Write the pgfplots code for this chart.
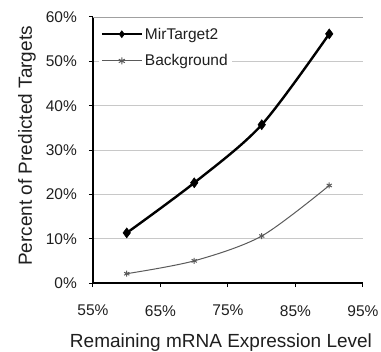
\documentclass[border=0pt]{standalone}
\usepackage{fontspec}
\setmainfont{Liberation Sans}
\usepackage{pgfplots}
\pgfplotsset{compat=1.18}
\definecolor{bggray}{HTML}{5A5A5A}
\definecolor{gridgray}{HTML}{C8C8C8}
\definecolor{framegray}{HTML}{A0A0A0}
\begin{document}
\begin{tikzpicture}
\begin{axis}[
  scale only axis,
  width=270bp, height=266bp,
  at={(0,0)}, anchor=south west,
  xmin=55, xmax=95, ymin=0, ymax=60,
  axis x line*=bottom, axis y line*=left,
  axis line style={black, line width=1.1bp},
  xtick={55,65,75,85,95},
  xticklabels={55\%,65\%,75\%,85\%,95\%},
  ytick={0,10,20,30,40,50,60},
  yticklabels={0\%,10\%,20\%,30\%,40\%,50\%,60\%},
  tick align=outside,
  major tick length=4bp,
  tick style={black, line width=1bp},
  ymajorgrids,
  grid style={gridgray, line width=0.8bp},
  /pgf/number format/assume math mode=true,
  ticklabel style={font=\fontsize{15.5bp}{18bp}\selectfont, text=black!88},
  yticklabel style={anchor=east, inner sep=0pt, xshift=-12bp},
  xticklabel style={anchor=north, inner sep=0pt, yshift=-18bp},
  xlabel={Remaining mRNA Expression Level},
  ylabel={Percent of Predicted Targets},
  label style={font=\fontsize{19bp}{22bp}\selectfont, text=black!88},
  xlabel style={at={(axis description cs:0.5,0)}, anchor=base, inner sep=0pt, yshift=-64bp, xshift=-7bp},
  ylabel style={at={(axis description cs:0,0.5)}, anchor=center, inner sep=0pt, yshift=66bp, xshift=4bp},
  legend style={draw=none, fill=white, at={(axis description cs:0.02,0.975)}, anchor=north west,
    font=\fontsize{15.5bp}{18bp}\selectfont, text=black!88, inner sep=2bp, row sep=10bp},
  legend cell align=left,
  legend image code/.code={
    \draw[#1] (0bp,0bp) -- (20bp,0bp) -- (40bp,0bp);
    \draw[#1, only marks, mark size=3.5bp] plot coordinates {(20bp,0bp)};
  },
]
\draw[framegray, line width=0.8bp] (rel axis cs:0,1) -- (rel axis cs:1,1) -- (rel axis cs:1,0);
\addplot[black, line width=2.4bp, smooth, tension=0.5, mark=diamond*, mark size=5bp,
  mark options={line width=0.5bp}]
  coordinates {(60,11.3) (70,22.6) (80,35.7) (90,56.2)};
\addlegendentry{MirTarget2}
\addplot[bggray, line width=1bp, smooth, tension=0.5, mark=asterisk, mark size=3bp,
  mark options={line width=1bp}]
  coordinates {(60,2.1) (70,5.0) (80,10.6) (90,22.0)};
\addlegendentry{Background}
\end{axis}
\pgfresetboundingbox
\path (-93bp,-69bp) rectangle (288bp,283bp);
\end{tikzpicture}
\end{document}
